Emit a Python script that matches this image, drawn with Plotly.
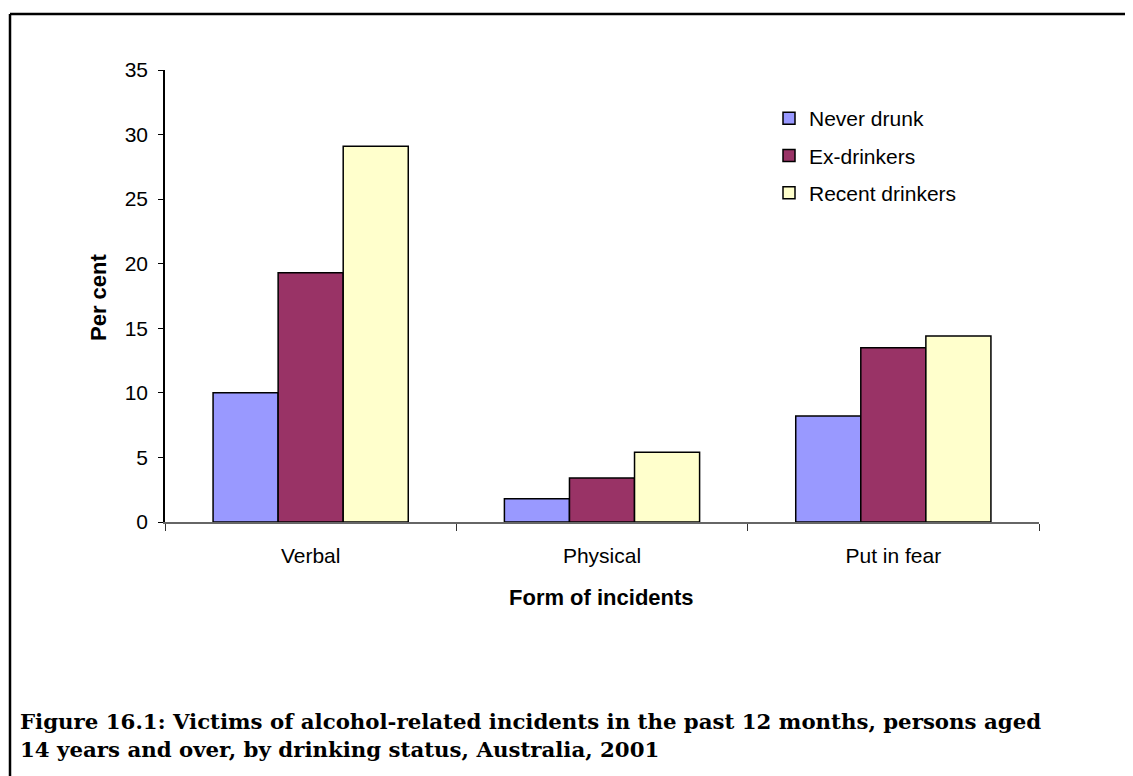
import plotly.graph_objects as go

categories = ["Verbal", "Physical", "Put in fear"]
series_names = ["Never drunk", "Ex-drinkers", "Recent drinkers"]
never_drunk = [10.0, 1.8, 8.2]
ex_drinkers = [19.3, 3.4, 13.5]
recent_drinkers = [29.1, 5.4, 14.4]
colors = ["#9999FF", "#993366", "#FFFFCC"]
y_ticks = [0, 5, 10, 15, 20, 25, 30, 35]

OFF = 8  # page body margin
W, H = 1133 - OFF, 776 - OFF
L, R, T, B = 165, 1039, 70, 522

fig = go.Figure()
for name, vals, col in zip(series_names, [never_drunk, ex_drinkers, recent_drinkers], colors):
    fig.add_trace(go.Bar(
        x=categories, y=vals, name=name, legendgroup=name,
        marker=dict(color=col, line=dict(color="black", width=1.5)),
    ))

def px(x):
    return (x - L) / (R - L)

def py(y):
    return (B - y) / (B - T)

fig.update_layout(
    width=W, height=H,
    margin=dict(l=L - OFF, r=W - (R - L) - (L - OFF), t=T - OFF, b=H - (B - T) - (T - OFF), pad=0),
    paper_bgcolor="white", plot_bgcolor="white",
    barmode="group", bargap=0.33, bargroupgap=0,
    font=dict(family="Liberation Sans, Arial, sans-serif", size=21, color="black"),
    showlegend=True,
    legend=dict(
        x=px(769), y=py(98), xanchor="left", yanchor="top",
        font=dict(size=21), tracegroupgap=7, bgcolor="rgba(0,0,0,0)",
        itemwidth=30,
    ),
    xaxis=dict(
        showline=True, linecolor="#666666", linewidth=1.5,
        ticks="outside", tickson="boundaries", ticklen=7, tickcolor="#333333",
        showgrid=False, tickfont=dict(size=21), ticklabelstandoff=14,
    ),
    yaxis=dict(
        range=[0, 35], tickvals=y_ticks, showline=True, linecolor="black", linewidth=1.5,
        ticks="outside", ticklen=5, tickcolor="black", showgrid=False, zeroline=False,
        tickfont=dict(size=21), ticklabelstandoff=6,
    ),
    annotations=[
        dict(text="<b>Per cent</b>", x=px(98), y=py(298), xref="paper", yref="paper",
             showarrow=False, textangle=-90, font=dict(size=22), xanchor="center", yanchor="middle"),
        dict(text="<b>Form of incidents</b>", x=px(601), y=py(597), xref="paper", yref="paper",
             showarrow=False, font=dict(size=22), xanchor="center", yanchor="middle"),
        dict(text="<b>Figure 16.1: Victims of alcohol-related incidents in the past 12 months, persons aged<br>14 years and over, by drinking status, Australia, 2001</b>",
             x=px(18), y=py(707), xref="paper", yref="paper", showarrow=False, align="left",
             font=dict(size=21.3, family="DejaVu Serif, serif"), xanchor="left", yanchor="top"),
    ],
    shapes=[
        dict(type="line", xref="paper", yref="paper", x0=px(10), y0=py(800), x1=px(10), y1=py(14),
             line=dict(color="black", width=2.5)),
        dict(type="line", xref="paper", yref="paper", x0=px(10), y0=py(14), x1=px(1131), y1=py(14),
             line=dict(color="black", width=2.5)),
    ],
)

fig.write_html("out.html")
